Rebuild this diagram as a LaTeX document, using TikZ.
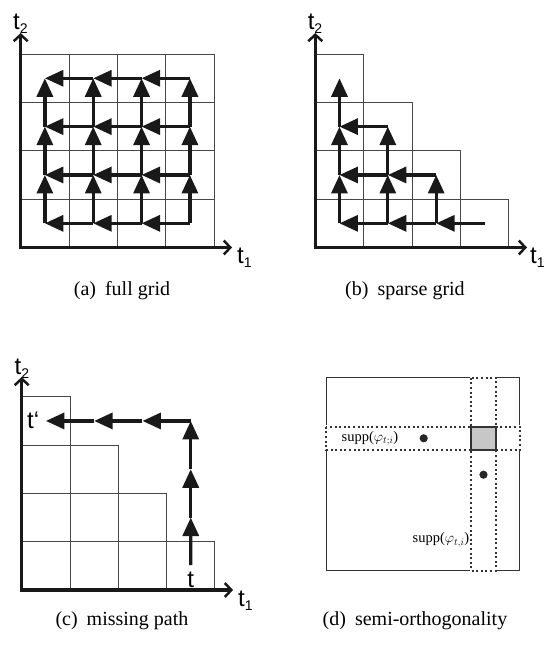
\documentclass[tikz,border=0pt]{standalone}
\usepackage{fontspec}
\setmainfont{Liberation Serif}
\newfontfamily\axfont{Liberation Sans}
\newfontfamily\capfont{Liberation Serif}
\usetikzlibrary{arrows.meta}
\begin{document}
\begin{tikzpicture}[x=1pt,y=-1pt,
  gridline/.style={line width=0.9pt, draw=black!72},
  axisline/.style={line width=3.2pt, line join=miter, draw=black!90,
    {Straight Barb[length=6.5pt,width=14pt,line width'=2.5pt]}-{Straight Barb[length=6.5pt,width=14pt,line width'=2.5pt]}},
  patharrow/.style={line width=3.3pt, draw=black!90, -{Triangle[length=18.5pt,width=16pt]}},
  axlabel/.style={inner sep=0pt, anchor=base west, font=\axfont\fontsize{24}{24}\selectfont},
  caption/.style={inner sep=0pt, anchor=base, font=\capfont\fontsize{20}{24}\selectfont},
  boxline/.style={line width=1.3pt, draw=black!80},
  dotline/.style={line width=2pt, draw=black!80, dash pattern=on 2pt off 2.6pt},
  whiteline/.style={line width=2.6pt, draw=white},
  supplabel/.style={inner sep=0pt, font=\capfont\fontsize{14.5}{16}\selectfont},
  dotmark/.style={fill=black!85, draw=none, circle, inner sep=0pt, minimum size=8.2pt}
]
\useasboundingbox (0,0) rectangle (546,656);

% ---------------- (a) full grid ----------------
\foreach \i in {0,...,3}{
  \foreach \j in {0,...,3}{
    \draw[gridline] ({20.7+\i*48.35},{247.5-\j*48.35}) rectangle ++(48.35,-48.35);
    \coordinate (a-\i-\j) at ({20.7+(\i+0.5)*48.35},{247.5-(\j+0.5)*48.35});
  }
}
\coordinate (a-o) at (20.7,247.5);
\coordinate (a-ytip) at (20.7,33);
\coordinate (a-xtip) at (232,247.5);
\draw[axisline] (a-ytip) -- (a-o) -- (a-xtip);
\foreach \j in {0,...,3}{
  \foreach \i in {0,1,2}{
    \pgfmathtruncatemacro\ip{\i+1}
    \draw[patharrow] (a-\ip-\j) -- (a-\i-\j);
  }
}
\foreach \i in {0,...,3}{
  \foreach \j in {0,1,2}{
    \pgfmathtruncatemacro\jp{\j+1}
    \draw[patharrow] (a-\i-\j) -- (a-\i-\jp);
  }
}
\node[axlabel] (a-t2) at (13,29) {t\raisebox{-4pt}{\fontsize{14}{14}\selectfont 2}};
\node[axlabel] (a-t1) at (237,263) {t\raisebox{-4pt}{\fontsize{14}{14}\selectfont 1}};
\node[caption] (cap-a) at (122,295) {(a)\hspace{0.45em}full grid};

% ---------------- (b) sparse grid ----------------
\foreach \j in {0,...,3}{
  \pgfmathtruncatemacro\n{3-\j}
  \foreach \i in {0,...,\n}{
    \draw[gridline] ({315.3+\i*48.35},{247.5-\j*48.35}) rectangle ++(48.35,-48.35);
    \coordinate (b-\i-\j) at ({315.3+(\i+0.5)*48.35},{247.5-(\j+0.5)*48.35});
  }
}
\coordinate (b-o) at (315.3,247.5);
\coordinate (b-ytip) at (315.3,33);
\coordinate (b-xtip) at (527,247.5);
\draw[axisline] (b-ytip) -- (b-o) -- (b-xtip);
% horizontal arrows
\draw[patharrow] (b-3-0) -- (b-2-0);
\draw[patharrow] (b-2-0) -- (b-1-0);
\draw[patharrow] (b-1-0) -- (b-0-0);
\draw[patharrow] (b-2-1) -- (b-1-1);
\draw[patharrow] (b-1-1) -- (b-0-1);
\draw[patharrow] (b-1-2) -- (b-0-2);
% vertical arrows
\draw[patharrow] (b-0-0) -- (b-0-1);
\draw[patharrow] (b-0-1) -- (b-0-2);
\draw[patharrow] (b-0-2) -- (b-0-3);
\draw[patharrow] (b-1-0) -- (b-1-1);
\draw[patharrow] (b-1-1) -- (b-1-2);
\draw[patharrow] (b-2-0) -- (b-2-1);
\node[axlabel] (b-t2) at (307.6,29) {t\raisebox{-4pt}{\fontsize{14}{14}\selectfont 2}};
\node[axlabel] (b-t1) at (530,263) {t\raisebox{-4pt}{\fontsize{14}{14}\selectfont 1}};
\node[caption] (cap-b) at (405,295) {(b)\hspace{0.45em}sparse grid};

% ---------------- (c) missing path ----------------
\foreach \j in {0,...,3}{
  \pgfmathtruncatemacro\n{3-\j}
  \foreach \i in {0,...,\n}{
    \draw[gridline] ({21.7+\i*48.3},{590-\j*48.3}) rectangle ++(48.3,-48.3);
  }
}
\foreach \i in {0,...,3}{
  \foreach \j in {0,...,3}{
    \coordinate (c-\i-\j) at ({21.7+(\i+0.5)*48.3},{590-(\j+0.5)*48.3});
  }
}
\coordinate (c-o) at (21.7,590);
\coordinate (c-ytip) at (21.7,377);
\coordinate (c-xtip) at (233,590);
\draw[axisline] (c-ytip) -- (c-o) -- (c-xtip);
\node[inner sep=0pt, anchor=base, font=\axfont\fontsize{24}{24}\selectfont] (c-t) at (190.8,587) {t};
\coordinate (c-start) at (190.8,565);
\draw[patharrow] (c-start) -- (c-3-1);
\draw[patharrow] (c-3-1) -- (c-3-2);
\draw[patharrow] (c-3-2) -- (c-3-3);
\draw[patharrow] (c-3-3) -- (c-2-3);
\draw[patharrow] (c-2-3) -- (c-1-3);
\draw[patharrow] (c-1-3) -- (c-0-3);
\node[axlabel] (c-tp) at (27,428) {t‘};
\node[axlabel] (c-t2) at (14.5,374) {t\raisebox{-4pt}{\fontsize{14}{14}\selectfont 2}};
\node[axlabel] (c-t1) at (238,606) {t\raisebox{-4pt}{\fontsize{14}{14}\selectfont 1}};
\node[caption] (cap-c) at (122,625) {(c)\hspace{0.45em}missing path};

% ---------------- (d) semi-orthogonality ----------------
\draw[boxline] (326.3,377.7) rectangle (519.7,570.7);
\draw[whiteline] (326.3,426.7) rectangle (519.7,450);
\draw[whiteline] (471.3,377.7) rectangle (495.7,570.7);
\draw[dotline] (326.3,426.7) rectangle (519.7,450);
\draw[dotline] (471.3,377.7) rectangle (495.7,570.7);
\draw[line width=2pt, draw=black!80, fill=black!22] (471.3,426.7) rectangle (495.7,450);
\node[dotmark] (d-p1) at (423.7,438.3) {};
\node[dotmark] (d-p2) at (483.5,474.7) {};
\node[supplabel] (d-l1) at (370,438.5) {supp($\varphi_{t;i}$)};
\node[supplabel] (d-l2) at (441,540) {supp($\varphi_{t,i}$)};
\node[caption] (cap-d) at (415,625) {(d)\hspace{0.45em}semi-orthogonality};
\end{tikzpicture}
\end{document}
